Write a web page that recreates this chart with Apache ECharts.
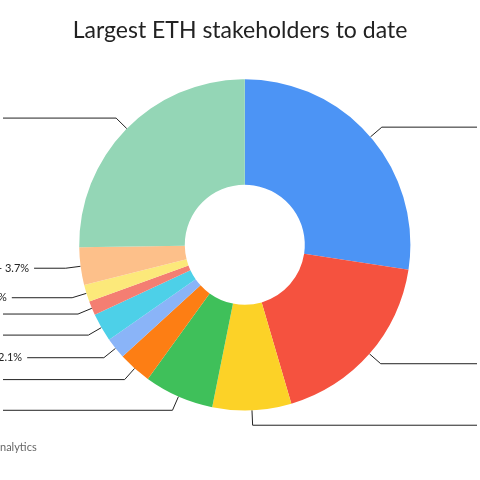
<!DOCTYPE html><html><head><meta charset="utf-8"><script src="https://cdn.jsdelivr.net/npm/echarts@6/dist/echarts.min.js"></script></head><body style="margin:0;background:#fff"><div id="c" style="width:480px;height:480px"></div><script>
const names=['S1','S2','S3','S4','S5','S6','S7','S8','S9','S10','S11'];
const values=[27.8,18.3,7.8,6.9,3.3,2.1,2.8,1.4,1.7,3.7,25.6];
const labels=['','','','','','2.1%','','','%','- 3.7%',''];
const colors=['#4c94f5','#f5523f','#fcd227','#3fc05a','#fd7e14','#8ab4f8','#4dd0e8','#f47e72','#fce97a','#fdc08a','#94d6b6'];
const chart=echarts.init(document.getElementById('c'));
chart.setOption({
title:{text:'Largest ETH stakeholders to date',left:'center',top:14,textStyle:{fontFamily:'Lato',fontWeight:'normal',fontSize:23,color:'#222'}},
graphic:[{type:'text',left:0,top:442,style:{text:'nalytics',fontSize:11,fill:'#666',fontFamily:'Lato'}}],
series:[{type:'pie',center:['51%','51%'],radius:['25%','69%'],startAngle:90,clockwise:true,
data:names.map((n,i)=>({name:n,value:values[i],itemStyle:{color:colors[i]},label:{formatter:labels[i]}})),
label:{position:'outside',alignTo:'edge',edgeDistance:-2,fontSize:11,color:'#222',fontFamily:'Lato',padding:[0,0,14,0]},
labelLine:{show:true,length:15,length2:0,lineStyle:{color:'#222',width:1}}
}]});
</script></body></html>
